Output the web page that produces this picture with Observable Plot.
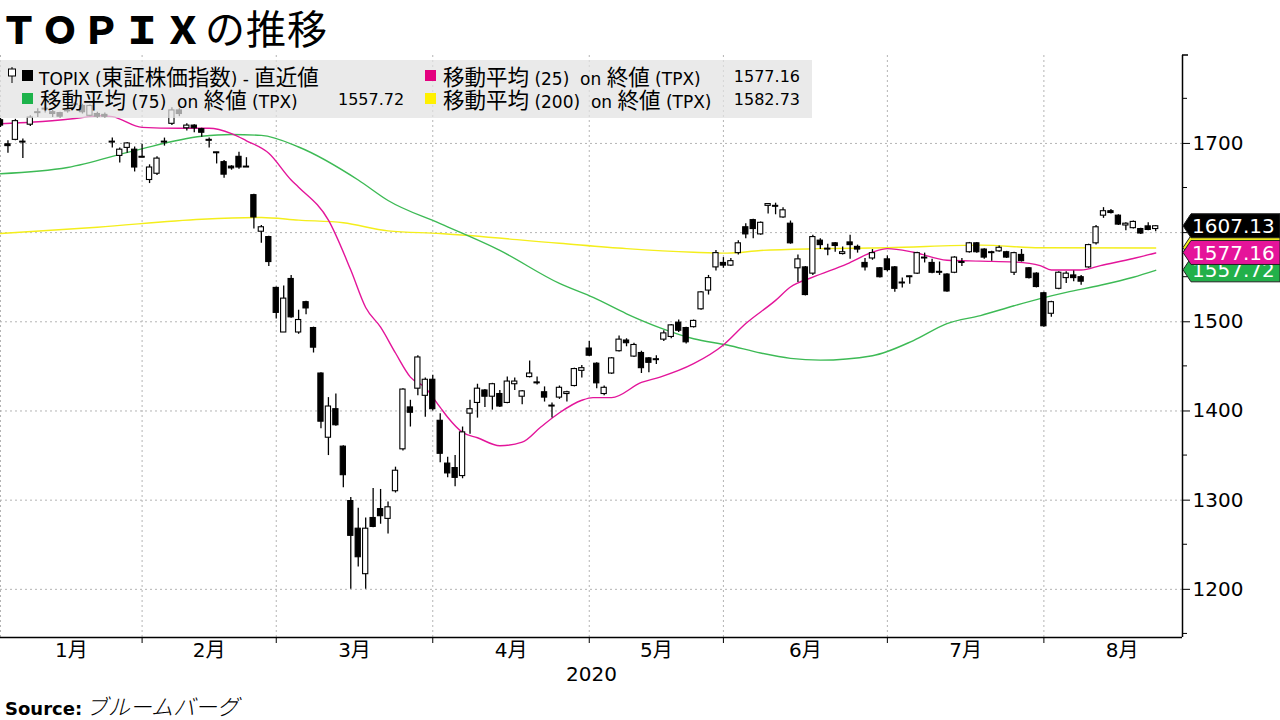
<!DOCTYPE html>
<html><head><meta charset="utf-8">
<script src="https://cdn.jsdelivr.net/npm/d3@7"></script>
<script src="https://cdn.jsdelivr.net/npm/@observablehq/plot@0.6"></script>
<style>
body{margin:0;background:#fff;width:1280px;height:720px;position:relative;overflow:hidden;font-family:'Noto Sans CJK JP',sans-serif;color:#000}
#title{position:absolute;left:0;top:2px;line-height:50px;white-space:pre}
#title .en{font-size:38px;font-weight:900;letter-spacing:3px}
#title .jp{font-size:40px;font-weight:400;letter-spacing:1px}
#chart{position:absolute;left:0;top:55px}
#legend{position:absolute;left:0;top:60px;width:812px;height:58px;background:rgba(226,226,226,0.72);font-family:'DejaVu Sans',sans-serif;font-size:17px}
#legend .t{position:absolute;line-height:22px;white-space:pre}
#legend .v{font-size:16px}
#legend .cj{font-family:'Noto Sans CJK JP',sans-serif;font-size:21.5px;line-height:22px}
#legend .sq{position:absolute;width:11px;height:11px}
#source{position:absolute;left:5px;top:693px;white-space:pre;line-height:24px}
#source b{font-family:'DejaVu Sans',sans-serif;font-size:18px}
#source span{font-size:22px;font-style:italic;font-weight:300}
</style></head><body>
<div id="title"><span class="en">ＴＯＰＩＸ</span><span class="jp">の推移</span></div>
<div id="chart"></div>
<div id="legend"></div>
<div id="source"><b>Source:</b> <span>ブルームバーグ</span></div>
<script>
// ---- data ----
const open = [1726,1699,1704,1702,1721,1734,1738,1735,1734,1736,
1743,1742,1731,1733,1732,1702,1686,1695,1693,1685,
1659,1666,1701,1722,1737,1717,1720,1716,1704,1690,
1679,1674,1685,1674,1642,1601,1595,1538,1488,1548,
1488,1522,1493,1442,1370,1402,1360,1299,1268,1217,
1280,1290,1279,1310,1357,1404,1425,1417,1435,1389,
1341,1336,1327,1397,1409,1423,1416,1419,1409,1430,
1416,1438,1432,1421,1406,1415,1419,1428,1445,1470,
1453,1419,1442,1467,1479,1461,1465,1459,1458,1480,
1483,1499,1493,1494,1514,1535,1561,1566,1563,1577,
1606,1614,1598,1630,1630,1617,1610,1560,1561,1554,
1591,1582,1588,1576,1589,1584,1566,1571,1560,1570,
1561,1544,1551,1554,1572,1566,1556,1553,1555,1567,
1578,1588,1581,1578,1579,1578,1555,1575,1560,1554,
1532,1509,1537,1549,1552,1550,1561,1588,1619,1624,
1619,1608,1605,1604,1607,1604];
const close = [1720,1697,1725,1701,1729,1735,1739,1733,1730,1737,
1744,1735,1742,1730,1730,1701,1693,1700,1673,1684,
1673,1683,1702,1737,1733,1720,1717,1712,1703,1689,
1665,1672,1673,1673,1617,1606,1567,1510,1526,1505,
1502,1515,1471,1388,1405,1384,1328,1260,1236,1268,
1270,1282,1292,1333,1424,1398,1460,1435,1402,1352,
1330,1325,1376,1402,1425,1416,1430,1405,1433,1433,
1422,1442,1431,1415,1405,1426,1421,1447,1448,1462,
1431,1426,1459,1480,1476,1474,1448,1454,1457,1487,
1496,1490,1477,1501,1533,1549,1577,1563,1568,1588,
1598,1604,1611,1632,1629,1625,1588,1570,1530,1595,
1586,1581,1585,1578,1586,1581,1561,1577,1550,1558,
1537,1543,1550,1577,1571,1555,1555,1534,1572,1566,
1588,1578,1572,1577,1583,1572,1577,1568,1549,1539,
1495,1522,1555,1554,1549,1545,1586,1606,1624,1622,
1609,1610,1612,1599,1603,1607.13];
const high = [1728,1703,1727,1705,1731,1739,1744,1737,1735,1739,
1746,1744,1743,1735,1734,1706,1695,1701,1696,1699,
1676,1685,1706,1740,1739,1722,1721,1717,1706,1690,
1681,1675,1690,1684,1643,1608,1596,1539,1540,1552,
1513,1523,1494,1443,1415,1419,1361,1303,1291,1280,
1313,1312,1298,1337,1425,1412,1462,1437,1440,1397,
1348,1350,1382,1412,1430,1424,1431,1423,1438,1437,
1423,1456,1438,1427,1409,1428,1422,1448,1451,1478,
1454,1428,1460,1484,1481,1476,1467,1460,1462,1490,
1497,1502,1494,1502,1534,1552,1580,1572,1571,1591,
1610,1615,1612,1632,1633,1628,1613,1575,1562,1597,
1593,1587,1589,1584,1597,1586,1571,1581,1561,1574,
1562,1549,1551,1578,1577,1570,1567,1554,1573,1571,
1589,1589,1582,1579,1585,1579,1578,1581,1561,1555,
1533,1523,1556,1556,1557,1552,1587,1608,1628,1626,
1620,1611,1613,1605,1611,1608];
const low = [1718,1689,1703,1683,1719,1729,1734,1729,1728,1734,
1741,1733,1730,1728,1728,1695,1678,1689,1668,1684,
1655,1664,1697,1720,1730,1714,1712,1707,1695,1677,
1661,1670,1671,1673,1604,1588,1562,1503,1488,1504,
1486,1508,1465,1380,1350,1383,1314,1200,1225,1200,
1269,1273,1262,1308,1355,1382,1417,1393,1400,1342,
1325,1315,1324,1374,1392,1404,1401,1404,1408,1423,
1407,1437,1429,1410,1392,1413,1410,1427,1437,1461,
1425,1417,1441,1466,1472,1460,1442,1443,1452,1478,
1481,1488,1475,1493,1513,1530,1557,1560,1562,1575,
1593,1593,1597,1621,1620,1616,1587,1544,1529,1552,
1581,1574,1578,1575,1570,1577,1557,1569,1549,1556,
1533,1538,1542,1553,1566,1554,1552,1533,1554,1562,
1577,1577,1570,1568,1578,1571,1552,1567,1548,1538,
1494,1505,1536,1543,1545,1541,1560,1586,1616,1621,
1608,1602,1604,1598,1602,1601];

// moving averages, sampled along the trading-day index
const ma25Idx = [0,4.5,10,13.4,15,19,24,28,31,33,36,39,40,44,47,49,51,53,55,57,59,60,62,64,67,70,72.5,75,78,79.5,82,86,88.5,93,97,100,104,106,109,113.6,117,119,122.5,127,131.5,136,139.5,141,145,147.6,152,155];
const ma25Val = [1722,1724,1728,1731,1730,1718,1717,1717,1711,1703,1689,1659,1651,1614,1558,1516,1494,1465,1438,1426,1404,1393,1376,1370,1361,1365,1382,1398,1412,1415,1415,1432,1438,1453,1474,1498,1524,1539,1550,1565,1578,1582,1578,1569,1568,1567,1563,1558,1558,1563,1571,1577.16];
const ma75Idx = [0,9,18,27,31,35,40,48,52,59,67,75,79.6,84,88.6,93,97.5,102,106,110,117,122.5,127,131.5,136,139.5,143,147.6,152,155];
const ma75Val = [1666,1673,1692,1708,1710,1709,1696,1659,1636,1610,1580,1543,1527,1509,1493,1481,1474,1465,1459,1457,1462,1479,1498,1507,1518,1526,1533,1541,1550,1557.72];
const ma200Idx = [0,13,27,35,40,46,52,59,75,84,93,97.5,102,110,119,131.5,139.5,155];
const ma200Val = [1599,1606,1615,1617,1614,1611,1602,1599,1588,1582,1578,1577,1580,1582,1583,1586,1583,1582.73];

// axis content
const monthLabels = ["1月","2月","3月","4月","5月","6月","7月","8月"];
const monthStarts = [0,19,37,58,79,97,119,140,161];   // trading-day index of month boundaries
const yearLabel = "2020";
const yTicks = [1200,1300,1400,1500,1600,1700];
const yMinor = [1150,1250,1350,1450,1550,1650,1750];
const xDomain = [0, 158.6];
const yDomain = [1146, 1798.6];

// legend texts and last values
const legendTopix = "TOPIX (東証株価指数) - 直近値";
const maNames = ["移動平均 (25)  on 終値 (TPX)", "移動平均 (75)  on 終値 (TPX)", "移動平均 (200)  on 終値 (TPX)"];
const lastValues = {topix: 1607.13, ma25: 1577.16, ma75: 1557.72, ma200: 1582.73};

// ---- build tables ----
const candles = d3.range(open.length).map(i => ({i, o: open[i], h: high[i], l: low[i], c: close[i]}));
const up = candles.filter(d => d.c >= d.o);
const down = candles.filter(d => d.c < d.o);
const ma25 = ma25Idx.map((x, k) => ({x, v: ma25Val[k]}));
const ma75 = ma75Idx.map((x, k) => ({x, v: ma75Val[k]}));
const ma200 = ma200Idx.map((x, k) => ({x, v: ma200Val[k]}));
const months = monthLabels.map((m, k) => ({m, x: (monthStarts[k] + monthStarts[k + 1]) / 2}));

const C = {mag: "#e3159a", green: "#3dba55", yellow: "#f4ee1c", grid: "#b4b4b4"};
const hw = 0.35;
const body = {x1: d => d.i - hw, x2: d => d.i + hw, y1: d => Math.min(d.o, d.c), y2: d => Math.max(d.o, d.c), stroke: "#000", strokeWidth: 1.1};

const plot = Plot.plot({
  width: 1280, height: 640,
  marginTop: 0, marginRight: 98, marginBottom: 58, marginLeft: 0,
  style: {fontFamily: "'DejaVu Sans','Noto Sans CJK JP',sans-serif", fontSize: "20px", background: "transparent", overflow: "visible"},
  x: {domain: xDomain, ticks: monthStarts.slice(1, 8), tickSize: 6, tickFormat: () => "", label: null},
  y: {domain: yDomain, axis: "right", ticks: yTicks, tickSize: 7, tickPadding: 3, tickFormat: d => String(d), label: null},
  marks: [
    Plot.ruleY(yTicks, {stroke: C.grid, strokeDasharray: "2,3"}),
    Plot.ruleX(monthStarts.slice(0, 8), {stroke: C.grid, strokeDasharray: "2,3"}),
    Plot.line(ma200, {x: "x", y: "v", stroke: C.yellow, strokeWidth: 1.4, curve: "monotone-x"}),
    Plot.line(ma75, {x: "x", y: "v", stroke: C.green, strokeWidth: 1.4, curve: "monotone-x"}),
    Plot.line(ma25, {x: "x", y: "v", stroke: C.mag, strokeWidth: 1.4, curve: "monotone-x"}),
    Plot.ruleX(candles, {x: "i", y1: "l", y2: "h", stroke: "#000", strokeWidth: 1.3}),
    Plot.rect(up, {...body, fill: "#fff"}),
    Plot.rect(down, {...body, fill: "#000"}),
    Plot.ruleY([yDomain[0]], {stroke: "#000", strokeWidth: 1.5}),
    Plot.ruleX([xDomain[1]], {stroke: "#000", strokeWidth: 1.5}),
    Plot.text(months, {x: "x", text: "m", frameAnchor: "bottom", dy: 19, fontSize: 20}),
    Plot.text([yearLabel], {x: () => (xDomain[0] + xDomain[1]) / 2, text: d => d, frameAnchor: "bottom", dy: 43, fontSize: 20})
  ]
});
document.getElementById("chart").appendChild(plot);

// ---- extras drawn with the plot's own scales ----
const ys = plot.scale("y"), xs = plot.scale("x");
const yf = ys.apply ? v => ys.apply(v) : d3.scaleLinear(ys.domain, ys.range);
const xf = xs.apply ? v => xs.apply(v) : d3.scaleLinear(xs.domain, xs.range);
const svg = d3.select(plot);
const ax = xf(xDomain[1]);
const g = svg.append("g").attr("text-anchor", "start");
g.selectAll("line.minor").data(yMinor.filter(v => v > yDomain[0] && v < yDomain[1])).join("line")
  .attr("x1", ax).attr("x2", ax + 5).attr("y1", d => yf(d)).attr("y2", d => yf(d)).attr("stroke", "#000");
g.append("line").attr("x1", ax).attr("x2", ax + 6).attr("y1", yf(yDomain[1])).attr("y2", yf(yDomain[1])).attr("stroke", "#000").attr("stroke-width", 1.5);

const tags = [
  {v: lastValues.ma200, fill: C.yellow, text: "#000"},
  {v: lastValues.ma75, fill: "#22b04a", text: "#fff"},
  {v: lastValues.ma25, fill: "#e5149a", text: "#fff"},
  {v: lastValues.topix, fill: "#000", text: "#fff"}
];
tags.forEach(t => {
  const y = yf(t.v), x0 = ax + 1;
  g.append("path").attr("d", `M${x0},${y}L${x0 + 8},${y - 12}H1280V${y + 12}H${x0 + 8}Z`)
    .attr("fill", t.fill).attr("stroke", "#222").attr("stroke-width", 1);
  g.append("text").attr("x", x0 + 9).attr("y", y).attr("dy", "0.36em").attr("fill", t.text)
    .attr("text-anchor", "start").attr("font-size", 20).text(t.v.toFixed(2));
});

// ---- legend ----
const lg = document.getElementById("legend");
const cjk = s => s.replace(/([\u3000-\u9fff]+)/g, '<span class="cj">$1</span>');
function add(html, style, cls = "t") { const e = document.createElement("div"); e.className = cls; e.innerHTML = html; Object.assign(e.style, style); lg.appendChild(e); }
add(`<svg width="10" height="16"><line x1="5" y1="0" x2="5" y2="16" stroke="#000"/><rect x="1.5" y="2" width="7" height="7" fill="#fff" stroke="#000"/></svg>`, {left: "7px", top: "7px", lineHeight: "0"});
add("", {left: "22px", top: "10px", background: "#000"}, "sq");
add(cjk(legendTopix), {left: "39px", top: "5px"});
const rows = [
  {sq: "#e4007f", x: 425, top: 5, name: maNames[0], v: lastValues.ma25, right: 12},
  {sq: "#1db34b", x: 22, top: 28, name: maNames[1], v: lastValues.ma75, left: 338},
  {sq: "#fff000", x: 425, top: 28, name: maNames[2], v: lastValues.ma200, right: 12}
];
rows.forEach(r => {
  add("", {left: r.x + "px", top: (r.top + 5) + "px", background: r.sq}, "sq");
  add(cjk(r.name), {left: (r.x + 18) + "px", top: r.top + "px"});
  const pos = r.right !== undefined ? {right: r.right + "px"} : {left: r.left + "px"};
  add(`<span class="v">${r.v.toFixed(2)}</span>`, {...pos, top: r.top + "px"});
});
</script>
</body></html>
